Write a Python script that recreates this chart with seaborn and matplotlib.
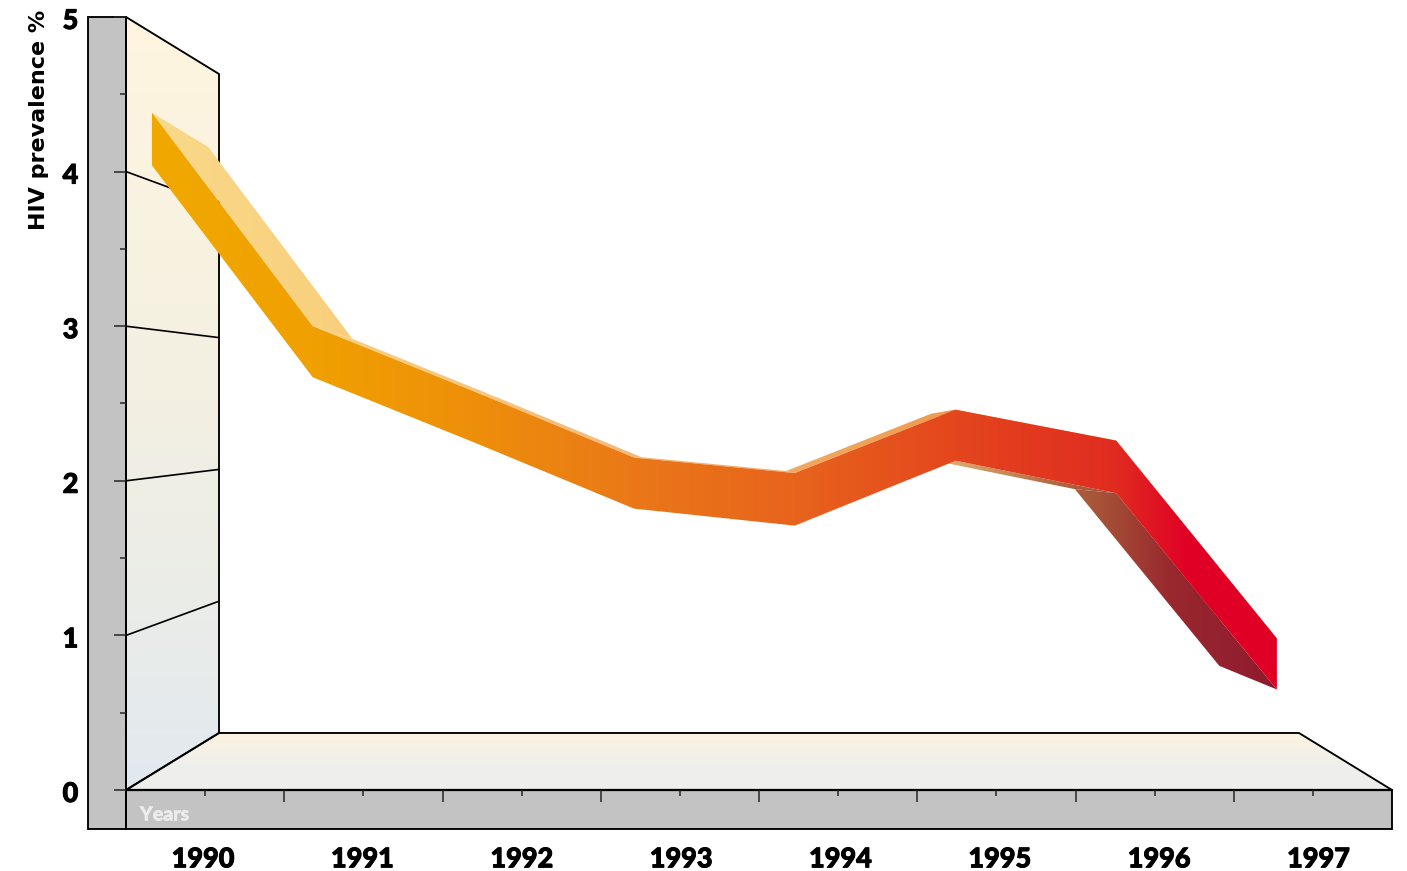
import numpy as np
import matplotlib
matplotlib.use('Agg')
import matplotlib.pyplot as plt
import matplotlib.patheffects as pe
from matplotlib.colors import LinearSegmentedColormap
from matplotlib.patches import Polygon, Rectangle
from matplotlib.transforms import ScaledTranslation
import seaborn as sns

years = [1990, 1991, 1992, 1993, 1994, 1995, 1996, 1997]
band_upper = [4.38, 3.00, 2.58, 2.15, 2.05, 2.46, 2.26, 0.98]
band_lower = [4.04, 2.67, 2.25, 1.82, 1.71, 2.13, 1.92, 0.65]
y_major = [0, 1, 2, 3, 4, 5]
y_minor = [0.5, 1.5, 2.5, 3.5, 4.5]
grid_levels = [1, 2, 3, 4]

W, H = 1407, 871
LEFT, RIGHT, TOP, BOTTOM = 126, 1392, 17, 790
FONT = 'Lato'
LW = 1.35

# colour stops along the band, keyed by pixel x
front_stops = [(152, '#f0a900'), (313, '#f0a000'), (473, '#ee8f0a'), (634, '#ea7818'),
               (794, '#e8641c'), (955, '#e4461e'), (1115, '#e02c20'), (1190, '#e00026'),
               (1277, '#e00026')]
top_stops = [(152, '#f9d98a'), (350, '#f8cf7c'), (640, '#f3b878'), (800, '#f2a860'),
             (960, '#ef9a50'), (1277, '#ef9a50')]
under_stops = [(930, '#e8b878'), (1060, '#b0663e'), (1115, '#a34a36'), (1170, '#99282f'),
               (1277, '#8f1a2e')]
wall_stops = [(17, '#fff5df'), (400, '#f3f0e2'), (790, '#e2e9ef')]
floor_stops = [(733, '#fdf3e0'), (765, '#efefec'), (790, '#eeeeee')]


def px_x(v):
    return 1989.5 + (np.asarray(v, dtype=float) - LEFT) / 158.25


def px_y(v):
    return (BOTTOM - np.asarray(v, dtype=float)) / (BOTTOM - TOP) * 5


def to_px_y(y):
    return BOTTOM - np.asarray(y, dtype=float) / 5 * (BOTTOM - TOP)


def back_point(x, y):
    # far side of the ribbon, pulled towards the vanishing point (pixels)
    return 71.4 + 0.899 * x, 45.3 + 0.9 * y


def grad_fill(ax, pts, stops, vertical=False, zorder=2):
    lo, hi = stops[0][0], stops[-1][0]
    cmap = LinearSegmentedColormap.from_list(
        'g', [((p - lo) / (hi - lo), c) for p, c in stops], N=512)
    ramp = np.linspace(0, 1, 512)
    xs = [p[0] for p in pts]
    ys = [p[1] for p in pts]
    if vertical:
        img = ramp.reshape(-1, 1)
        ext = [px_x(min(xs)), px_x(max(xs)), px_y(hi), px_y(lo)]
    else:
        img = ramp.reshape(1, -1)
        ext = [px_x(lo), px_x(hi), px_y(max(ys)), px_y(min(ys))]
    im = ax.imshow(img, cmap=cmap, extent=ext, aspect='auto', origin='upper',
                   zorder=zorder, interpolation='bilinear')
    poly = Polygon([(px_x(a), px_y(b)) for a, b in pts], closed=True, transform=ax.transData)
    im.set_clip_path(poly)


sns.set_theme(style='ticks')
plt.rcParams['font.family'] = [FONT, 'DejaVu Sans']

fig = plt.figure(figsize=(W / 100, H / 100), dpi=100)
ax = fig.add_axes([LEFT / W, (H - BOTTOM) / H, (RIGHT - LEFT) / W, (BOTTOM - TOP) / H])
ax.patch.set_visible(False)
ax.set_axisbelow(False)
for s in ax.spines.values():
    s.set_visible(False)

# grey slabs
ax.add_patch(Rectangle((px_x(88), px_y(829)), px_x(LEFT) - px_x(88), px_y(TOP) - px_y(829),
                       fc='#c3c3c3', ec='black', lw=LW, clip_on=False, zorder=1))
ax.add_patch(Rectangle((px_x(LEFT), px_y(829)), px_x(RIGHT) - px_x(LEFT), px_y(BOTTOM) - px_y(829),
                       fc='#c3c3c3', ec='black', lw=LW, clip_on=False, zorder=1))

# side wall and floor
wall = [(LEFT, TOP), (219, 74), (219, 733), (LEFT, BOTTOM)]
floor = [(LEFT, BOTTOM), (219, 733), (1299, 733), (RIGHT, BOTTOM)]
grad_fill(ax, wall, wall_stops, vertical=True, zorder=1.2)
grad_fill(ax, floor, floor_stops, vertical=True, zorder=1.2)
for shape in (wall, floor):
    ax.add_patch(Polygon([(px_x(a), px_y(b)) for a, b in shape], closed=True, fc='none',
                         ec='black', lw=LW, zorder=1.5, joinstyle='miter', clip_on=False))
ax.plot([px_x(LEFT)] * 2, [px_y(TOP), px_y(829)], color='black', lw=LW, clip_on=False, zorder=1.6)
ax.plot([px_x(LEFT), px_x(RIGHT)], [0, 0], color='black', lw=LW * 1.2, clip_on=False, zorder=1.6)

# wall gridlines
for lev in grid_levels:
    y_back = 74 + (to_px_y(lev) - TOP) * 659 / 773
    sns.lineplot(x=[px_x(LEFT), px_x(219)], y=[lev, px_y(y_back)], color='black',
                 lw=LW * 0.9, ax=ax, zorder=1.6, errorbar=None)

# ribbon: pixel positions of the eight yearly vertices
band_px = [152 + (y - years[0]) * 160.7 for y in years]
up_px = to_px_y(band_upper)
lo_px = to_px_y(band_lower)
for i in range(len(years) - 1):
    a, b = band_px[i], band_px[i + 1]
    quad = [(a, up_px[i]), (b, up_px[i + 1]), back_point(b, up_px[i + 1]), back_point(a, up_px[i])]
    grad_fill(ax, quad, top_stops, zorder=3)
for i in range(len(years) - 1):
    a, b = band_px[i], band_px[i + 1]
    if b < 900:
        continue
    quad = [(a, lo_px[i]), (b, lo_px[i + 1]), back_point(b, lo_px[i + 1]), back_point(a, lo_px[i])]
    grad_fill(ax, quad, under_stops, zorder=3.2)
front = list(zip(band_px, up_px)) + list(zip(band_px, lo_px))[::-1]
grad_fill(ax, front, front_stops, zorder=3.5)

# axes furniture
ax.set_xlim(1989.5, 1997.5)
ax.set_ylim(0, 5)
ax.set_yticks(y_major)
ax.set_yticks(y_minor, minor=True)
ax.set_yticklabels([str(v) for v in y_major])
ax.set_xticks([y + 0.5 for y in years[:-1]])
ax.set_xticklabels([])
ax.set_xticks(years, labels=[str(y) for y in years], minor=True)
ax.tick_params(axis='y', which='major', length=8.6, width=1.1, pad=25, left=True)
ax.tick_params(axis='y', which='minor', length=4.3, width=1.1, left=True)
ax.tick_params(axis='x', which='major', length=8.6, width=1.1, bottom=True)
ax.tick_params(axis='x', which='minor', length=4.3, width=1.1, bottom=True, pad=37)

heavy = [pe.withStroke(linewidth=0.7, foreground='black')]
nudge_y = ScaledTranslation(-1 / 100, -2 / 100, fig.dpi_scale_trans)
for t in ax.get_yticklabels():
    t.set_fontsize(19.5)
    t.set_fontweight('black')
    t.set_color('black')
    t.set_path_effects(heavy)
    t.set_transform(t.get_transform() + nudge_y)
# the year labels run slightly wider than the ticks in the original
for i, t in enumerate(ax.get_xticklabels(minor=True)):
    t.set_fontsize(19.5)
    t.set_fontweight('black')
    t.set_color('black')
    t.set_path_effects(heavy)
    t.set_transform(t.get_transform() + ScaledTranslation((-2 + 1.1 * i) / 100, 0, fig.dpi_scale_trans))

fig.text(39 / W, 1 - 120 / H, 'HIV prevalence %', rotation=90, ha='center', va='center',
         fontsize=16, fontweight='bold', color='black', family=['DejaVu Sans'])
ax.text(px_x(140), px_y(815), 'Years', ha='left', va='center', fontsize=14,
        fontweight='black', color='#ececec', clip_on=False, zorder=2,
        path_effects=[pe.withStroke(linewidth=0.4, foreground='#ececec')])

fig.savefig('out.png', dpi=100, facecolor='white')
